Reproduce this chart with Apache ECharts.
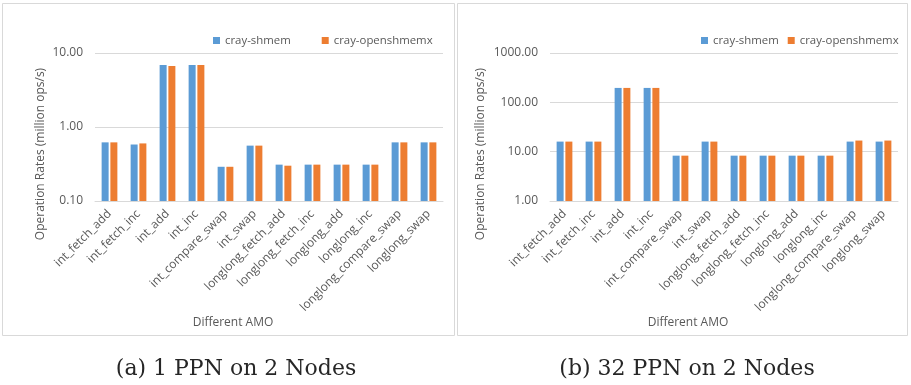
<!DOCTYPE html>
<html>
<head>
<meta charset="utf-8">
<script src="https://cdn.jsdelivr.net/npm/echarts@6/dist/echarts.min.js"></script>
<style>
  html, body { margin: 0; padding: 0; background: #fff; }
  #chart { width: 911px; height: 385px; }
</style>
</head>
<body>
<div id="chart"></div>
<script>
// Atomic memory operations measured in both runs
const amoOps = [
  'int_fetch_add', 'int_fetch_inc', 'int_add', 'int_inc', 'int_compare_swap', 'int_swap',
  'longlong_fetch_add', 'longlong_fetch_inc', 'longlong_add', 'longlong_inc',
  'longlong_compare_swap', 'longlong_swap'
];
const seriesNames = ['cray-shmem', 'cray-openshmemx'];

// (a) 1 PPN on 2 Nodes, million ops/s
const ppn1Shmem      = [0.62, 0.58, 6.87, 6.87, 0.29, 0.56, 0.31, 0.31, 0.31, 0.31, 0.62, 0.62];
const ppn1OpenShmemx = [0.62, 0.60, 6.66, 6.90, 0.29, 0.56, 0.30, 0.31, 0.31, 0.31, 0.62, 0.62];

// (b) 32 PPN on 2 Nodes, million ops/s
const ppn32Shmem      = [16.0, 16.0, 196, 196, 8.3, 16.0, 8.3, 8.3, 8.3, 8.3, 16.0, 16.0];
const ppn32OpenShmemx = [16.0, 16.0, 196, 196, 8.3, 16.0, 8.3, 8.3, 8.3, 8.3, 16.8, 16.8];

// Log-axis ranges of the two panels
const ppn1Range = [0.1, 10];
const ppn32Range = [1, 1000];

// Panel captions
const captions = ['(a) 1 PPN on 2 Nodes', '(b) 32 PPN on 2 Nodes'];

const BLUE = '#5B9BD5', ORANGE = '#ED7D31';
const TEXT = '#595959', GRIDLINE = '#d9d9d9';
const FONT = '"Open Sans", sans-serif';

function xAxisFor(gridIndex) {
  return {
    type: 'category', gridIndex, data: amoOps,
    axisLine: { lineStyle: { color: GRIDLINE } },
    axisTick: { show: false },
    axisLabel: { rotate: 45, color: TEXT, fontFamily: FONT, fontSize: 12, margin: 11, interval: 0 },
    name: 'Different AMO', nameLocation: 'middle', nameGap: 91,
    nameTextStyle: { color: TEXT, fontFamily: FONT, fontSize: 12, padding: [0, 72, 0, 0] }
  };
}

function yAxisFor(gridIndex, range, gap) {
  return {
    type: 'log', logBase: 10, gridIndex, min: range[0], max: range[1],
    axisLine: { show: false }, axisTick: { show: false },
    splitLine: { lineStyle: { color: GRIDLINE } },
    axisLabel: { color: TEXT, fontFamily: FONT, fontSize: 12, margin: 12,
                 formatter: v => v.toFixed(2) },
    name: 'Operation Rates (million ops/s)', nameLocation: 'middle', nameRotate: 90, nameGap: gap,
    nameTextStyle: { color: TEXT, fontFamily: FONT, fontSize: 12, padding: [0, 54, 0, 0] }
  };
}

// Bars on a log axis grow from 1 by default; an invisible stacked base at the
// axis minimum makes each visible bar rise from the bottom of the plot instead.
function barPair(name, data, color, idx, floor, stackId) {
  const base = {
    type: 'bar', name: '_base' + stackId, stack: stackId, xAxisIndex: idx, yAxisIndex: idx,
    data: data.map(() => floor), barWidth: 7, barGap: '25%', silent: true,
    itemStyle: { color: 'rgba(0,0,0,0)' }, tooltip: { show: false }
  };
  const bar = {
    type: 'bar', name, stack: stackId, xAxisIndex: idx, yAxisIndex: idx,
    data: data.map(v => v - floor), barWidth: 7, barGap: '25%',
    itemStyle: { color }
  };
  return [base, bar];
}

function legendFor(left, gap) {
  return {
    data: seriesNames, left, top: 30, width: 260, itemWidth: 7, itemHeight: 7, itemGap: gap,
    icon: 'rect',
    textStyle: { color: TEXT, fontFamily: FONT, fontSize: 11.4 }
  };
}

const captionStyle = { fontFamily: '"DejaVu Serif", serif', fontWeight: 'normal', fontSize: 22, color: '#262626' };

const chart = echarts.init(document.getElementById('chart'), null, { renderer: 'canvas' });
chart.setOption({
  animation: false,
  backgroundColor: '#ffffff',
  color: [BLUE, ORANGE],
  grid: [
    { left: 95, right: 468, top: 53, bottom: 184 },
    { left: 550, right: 13, top: 53, bottom: 184 }
  ],
  xAxis: [xAxisFor(0), xAxisFor(1)],
  yAxis: [yAxisFor(0, ppn1Range, 48), yAxisFor(1, ppn32Range, 63)],
  legend: [legendFor(208, 31), legendFor(696, 9)],
  series: [
    ...barPair(seriesNames[0], ppn1Shmem, BLUE, 0, ppn1Range[0], 'a0'),
    ...barPair(seriesNames[1], ppn1OpenShmemx, ORANGE, 0, ppn1Range[0], 'b0'),
    ...barPair(seriesNames[0], ppn32Shmem, BLUE, 1, ppn32Range[0], 'a1'),
    ...barPair(seriesNames[1], ppn32OpenShmemx, ORANGE, 1, ppn32Range[0], 'b1')
  ],
  title: [
    { text: captions[0], left: 231, top: 353, textAlign: 'center', textStyle: captionStyle },
    { text: captions[1], left: 682, top: 353, textAlign: 'center', textStyle: captionStyle }
  ],
  graphic: [
    { type: 'rect', shape: { x: 2.5, y: 3.5, width: 452, height: 332 }, silent: true,
      style: { fill: 'none', stroke: GRIDLINE, lineWidth: 1 } },
    { type: 'rect', shape: { x: 457.5, y: 3.5, width: 450, height: 332 }, silent: true,
      style: { fill: 'none', stroke: GRIDLINE, lineWidth: 1 } }
  ]
});
</script>
</body>
</html>
